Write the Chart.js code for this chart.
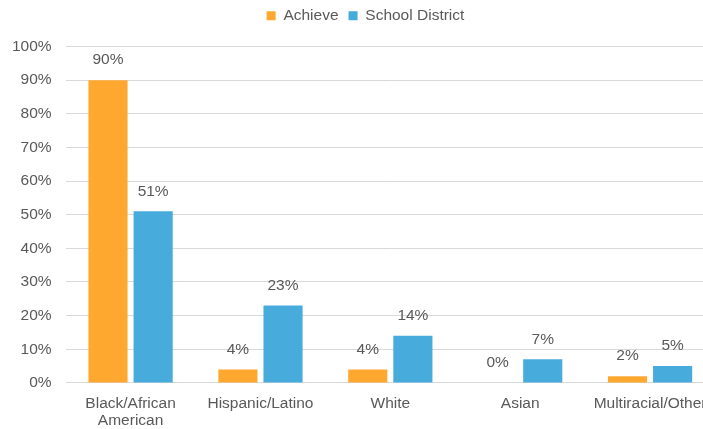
<!DOCTYPE html>
<html>
<head>
<meta charset="utf-8">
<script src="https://cdn.jsdelivr.net/npm/chart.js@4/dist/chart.umd.min.js"></script>
<style>
  html, body { margin: 0; padding: 0; background: #fff; overflow: hidden; }
  #wrap { width: 731px; height: 429px; }
</style>
</head>
<body>
<div id="wrap"><canvas id="chartRace"></canvas></div>
<script>
const categories = [['Black/African', 'American'], 'Hispanic/Latino', 'White', 'Asian', 'Multiracial/Other'];
const achieveValues = [90, 4, 4, 0, 2];
const districtValues = [51, 23, 14, 7, 5];
const yTicks = [0, 10, 20, 30, 40, 50, 60, 70, 80, 90, 100];

const TEXT = '#595959';
const FONT = { family: '"Liberation Sans", Arial, sans-serif', size: 15.5, lineHeight: 1.1 };

// draws the percent labels above each bar
const barLabels = {
  id: 'barLabels',
  afterDatasetsDraw(chart) {
    const { ctx } = chart;
    ctx.save();
    ctx.font = `${FONT.size}px ${FONT.family}`;
    ctx.fillStyle = TEXT;
    ctx.textAlign = 'center';
    ctx.textBaseline = 'middle';
    chart.data.datasets.forEach((ds, i) => {
      chart.getDatasetMeta(i).data.forEach((bar, j) => {
        ctx.fillText(`${ds.data[j]}%`, bar.x, bar.y - 20);
      });
    });
    ctx.restore();
  },
};

// more room under the legend, and nudge it right a little
const legendGap = {
  id: 'legendGap',
  beforeInit(chart) {
    const fit = chart.legend.fit;
    chart.legend.fit = function () {
      fit.bind(chart.legend)();
      this.height += 13;
    };
  },
  afterLayout(chart) {
    chart.legend.left += 9;
    chart.legend.right += 9;
  },
};

new Chart(document.getElementById('chartRace').getContext('2d'), {
  type: 'bar',
  data: {
    labels: categories,
    datasets: [
      { label: 'Achieve', data: achieveValues, backgroundColor: '#FFA82F' },
      { label: 'School District', data: districtValues, backgroundColor: '#47ABDB' },
    ],
  },
  options: {
    responsive: true,
    maintainAspectRatio: false,
    animation: false,
    categoryPercentage: 0.695,
    barPercentage: 0.867,
    layout: { padding: { top: -2, right: 16, bottom: -4, left: -2 } },
    scales: {
      x: {
        grid: { display: false },
        border: { display: false },
        ticks: { color: TEXT, font: FONT, maxRotation: 0, autoSkip: false, padding: 4 },
      },
      y: {
        min: 0,
        max: 100,
        afterBuildTicks: (axis) => { axis.ticks = yTicks.map((v) => ({ value: v })); },
        grid: { color: '#D9D9D9', lineWidth: 1, drawTicks: false },
        border: { display: false },
        ticks: { color: TEXT, font: FONT, padding: 14, callback: (v) => `${v}%` },
      },
    },
    plugins: {
      legend: {
        position: 'top',
        labels: { color: TEXT, font: FONT, boxWidth: 9, boxHeight: 9, padding: 10 },
      },
      tooltip: { enabled: false },
    },
  },
  plugins: [barLabels, legendGap],
});
</script>
</body>
</html>
